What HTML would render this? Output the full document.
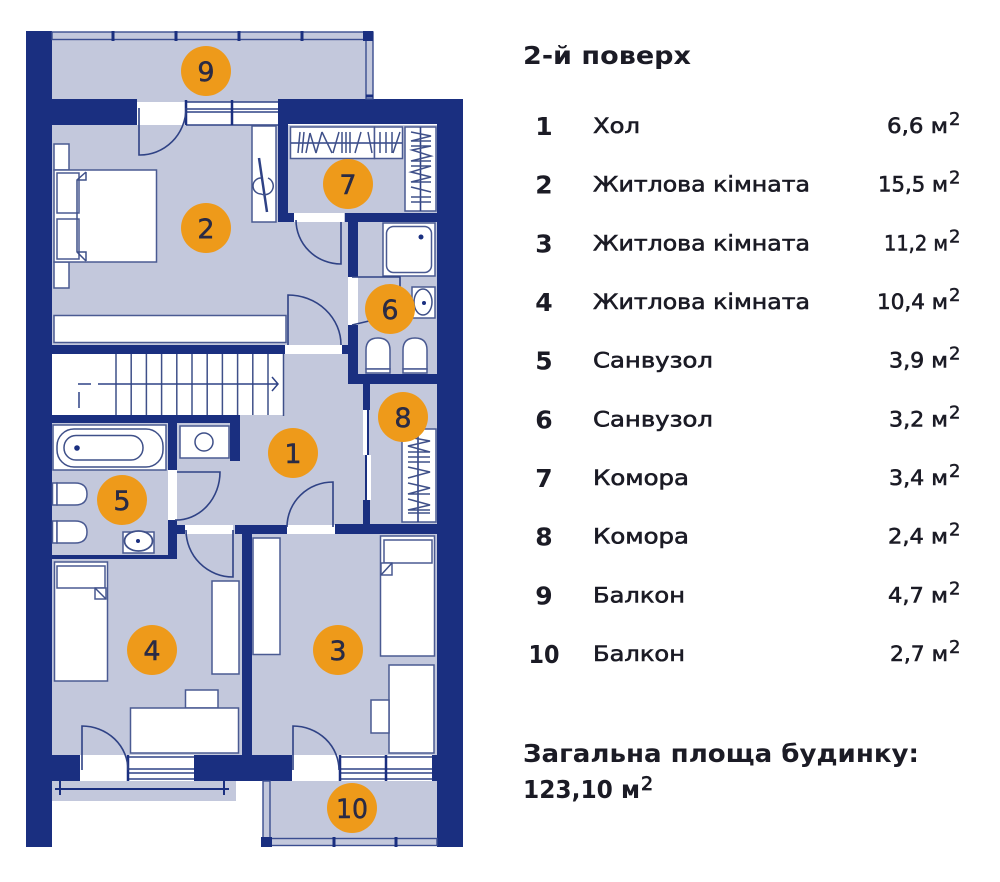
<!DOCTYPE html>
<html lang="uk"><head><meta charset="utf-8"><title>2-й поверх</title>
<style>
html,body{margin:0;padding:0;background:#fff}
svg{display:block}
.w{fill:#1a2f80}
.f{fill:#fff;stroke:#4a5a92;stroke-width:1.5}
.l{fill:none;stroke:#3f5089;stroke-width:1.5}
.d{fill:none;stroke:#2f4285;stroke-width:1.6}
.r{fill:#c3c8dc;stroke:#3a4d90;stroke-width:1.4}
.t{stroke:#1a2f80;stroke-width:3}
.n{font:27px "DejaVu Sans",sans-serif;fill:#2a2b45;stroke:#2a2b45;stroke-width:.5;text-anchor:middle}
.c{fill:#ee9a1a}
.lb{font:21.5px "DejaVu Sans",sans-serif;fill:#1b1b25;stroke:#1b1b25;stroke-width:.6}
.sup{font:18px "DejaVu Sans",sans-serif;fill:#1b1b25;stroke:#1b1b25;stroke-width:.5}
.num{font:bold 25px "DejaVu Sans",sans-serif;fill:#1b1b25;text-anchor:middle}
.h{font:bold 25px "DejaVu Sans",sans-serif;fill:#1b1b25}
</style></head><body>
<svg width="1000" height="882" viewBox="0 0 1000 882" xmlns="http://www.w3.org/2000/svg">
<rect width="1000" height="882" fill="#fff"/>
<!-- fills -->
<g fill="#c3c8dc">
<rect x="52" y="36" width="316" height="66"/>
<rect x="52" y="125" width="385" height="630"/>
<rect x="52" y="781" width="184" height="20"/>
<rect x="268" y="781" width="169" height="60"/>
</g>
<!-- stairs -->
<rect x="52" y="354" width="232" height="61" fill="#fff"/>
<g class="l" stroke-width="1.4">
<path d="M116 354V415M131.2 354V415M146.4 354V415M161.6 354V415M176.8 354V415M192 354V415M207.2 354V415M222.4 354V415M237.6 354V415M252.8 354V415M268 354V415M283.5 354V416"/>
<path d="M98 384H278M78 384H91M272 377L278 384L272 391M79 392V408" stroke="#2f4285"/>
</g>
<!-- white door gaps -->
<g fill="#fff">
<rect x="137" y="102" width="49" height="23"/>
<rect x="294" y="213" width="50" height="9"/>
<rect x="348" y="277" width="10" height="48"/>
<rect x="285" y="345" width="57" height="9"/>
<rect x="168" y="470" width="9" height="50"/>
<rect x="185" y="525" width="48" height="9"/>
<rect x="287" y="525" width="48" height="9"/>
<rect x="80" y="757" width="48" height="24"/>
<rect x="292" y="757" width="48" height="24"/>
<rect x="363" y="410" width="5" height="45"/>
<rect x="366" y="455" width="5" height="45"/>
<rect x="186" y="102" width="92" height="23"/>
<rect x="128" y="757" width="66" height="22"/>
<rect x="340" y="757" width="92" height="22"/>
</g>
<!-- walls -->
<g class="w">
<rect x="26" y="31" width="26" height="816"/>
<rect x="52" y="99" width="85" height="26"/>
<rect x="278" y="99" width="185" height="25"/>
<rect x="437" y="99" width="26" height="748"/>
<rect x="278" y="99" width="10" height="123"/>
<rect x="278" y="213" width="16" height="9"/>
<rect x="345" y="213" width="92" height="9"/>
<rect x="348" y="213" width="10" height="64"/>
<rect x="348" y="325" width="10" height="59"/>
<rect x="348" y="374" width="89" height="10"/>
<rect x="342" y="345" width="8" height="9"/>
<rect x="52" y="345" width="233" height="9"/>
<rect x="363" y="384" width="7" height="26"/>
<rect x="363" y="500" width="7" height="25"/>
<rect x="335" y="524" width="102" height="10"/>
<rect x="235" y="525" width="52" height="9"/>
<rect x="242" y="525" width="10" height="230"/>
<rect x="52" y="415" width="188" height="8"/>
<rect x="168" y="415" width="9" height="55"/>
<rect x="230" y="415" width="10" height="46"/>
<rect x="168" y="520" width="9" height="39"/>
<rect x="168" y="525" width="17" height="9"/>
<rect x="52" y="555" width="125" height="4"/>
<rect x="52" y="755" width="28" height="26"/>
<rect x="194" y="755" width="98" height="26"/>
<rect x="432" y="755" width="5" height="26"/>
</g>
<!-- windows -->
<g class="d">
<path d="M186 102H278M186 109H278M186 112H278M186 125H278"/>
<path d="M186 100V125M232 100V125" stroke-width="2.5" stroke="#1a2f80"/>
<path d="M128 757H194M128 769H194M128 773H194M128 779H194"/>
<path d="M128 755V781" stroke-width="2.5" stroke="#1a2f80"/>
<path d="M340 757H432M340 769H432M340 773H432M340 779H432"/>
<path d="M340 755V781M386 755V781" stroke-width="2.5" stroke="#1a2f80"/>
</g>
<!-- balcony rails -->
<rect class="r" x="52" y="32" width="320" height="7.5"/>
<rect class="r" x="366" y="32" width="7" height="67"/>
<path class="t" d="M113 31V41M176 31V41M239 31V41M302 31V41M366 96H373"/>
<rect x="363" y="31" width="10" height="10" fill="#1a2f80"/>
<rect class="r" x="263" y="781" width="7" height="65"/>
<rect class="r" x="263" y="838.500" width="174" height="7"/>
<path class="t" d="M334 837V847M396 837V847"/>
<rect x="261" y="837" width="11" height="10" fill="#1a2f80"/>
<path d="M55 789H229" stroke="#1a2f80" stroke-width="2" fill="none"/>
<path d="M60 781V795M224 781V795" stroke="#1a2f80" stroke-width="2" fill="none"/>
<!-- doors -->
<g class="d">
<path d="M139 108V155A46 47 0 0 0 186 108"/>
<path d="M341 222V264A45 44 0 0 1 296 220"/>
<path d="M288 345V295A53 50 0 0 1 341 345"/>
<path d="M177 472H220A44 48 0 0 1 175 520"/>
<path d="M233 530V577A47 47 0 0 1 186 530"/>
<path d="M333 527V482A46 45 0 0 0 287 527"/>
<path d="M82 770V726A46 44 0 0 1 128 770"/>
<path d="M293 770V726A46 44 0 0 1 339 770"/>
<path d="M368 410V455M366 455V500" stroke="#1a2f80" stroke-width="2"/>
</g>
<!-- room 2 furniture -->
<rect class="f" x="54" y="144" width="15" height="26"/>
<rect class="f" x="54" y="262" width="15" height="26"/>
<rect class="f" x="54" y="170" width="102.500" height="92" stroke-width="2.500"/>
<rect class="f" x="57" y="173" width="22" height="40"/>
<rect class="f" x="57" y="219" width="22" height="40"/>
<path class="l" d="M86 172L77 180V252L86 261M77 180H86V172M77 252H86V261" fill="#fff"/>
<rect class="f" x="54" y="315.500" width="232" height="27" stroke-width="2"/>
<rect class="f" x="252" y="126" width="24" height="96"/>
<path d="M259 158L267 212" stroke="#2f4285" stroke-width="2.500"/>
<path class="l" d="M261 178A8 8 0 0 0 261 194A8 8 0 0 0 268 178"/>
<!-- room 7 -->
<rect class="f" x="290.500" y="127" width="84" height="31.500"/>
<rect class="f" x="374.500" y="127" width="28" height="31.500"/>
<rect class="f" x="405" y="127" width="31" height="84"/>
<path class="d" d="M291 143H402M420.500 127V211"/>
<path class="l" stroke-width="1.800" d="M300 132L298 153M304 132L302 153M310 133L306 153M310 133L316 153M322 132L316 153M322 132L332 153M339 132L333 153M342 132V153M346 132V153M350 132V153M361 132L355 153M368 132L372 153M380 132V153M386 132V153M392 132V153M400 132L393 153"/>
<path class="l" stroke-width="1.800" d="M411 132L431 136L411 141H431M411 146H431L412 150L431 156L411 161H431M411 166H431L411 172L431 177L411 182H431M411 187L431 192M411 197H431M411 202H431"/>
<!-- bath 6 -->
<rect class="f" x="383" y="223" width="52" height="53"/>
<rect class="f" x="386.500" y="226.500" width="45" height="46" rx="7" stroke-width="2"/>
<circle cx="421" cy="237" r="2.500" fill="#1a2f80"/>
<path class="d" d="M352 277H400V287M352 325L369 321"/>
<rect class="f" x="412" y="287" width="23" height="31"/>
<ellipse cx="423" cy="302" rx="9" ry="13" fill="#fff" stroke="#3f5089" stroke-width="1.500"/>
<circle cx="424" cy="303" r="2" fill="#1a2f80"/>
<path class="f" d="M366 369V350Q366 338 378 338Q390 338 390 350V369Z"/>
<path class="f" d="M403 369V350Q403 338 415 338Q427 338 427 350V369Z"/>
<rect class="f" x="366" y="369" width="24" height="4" fill="#fff"/>
<rect class="f" x="403" y="369" width="24" height="4"/>
<!-- room 8 -->
<rect class="f" x="402" y="429" width="34" height="93"/>
<path class="d" d="M418 429V522"/>
<path class="l" stroke-width="1.800" d="M408 437L430 441L408 446L430 452H408M408 457H430M408 462H430M408 467L430 472L408 478M408 483L430 488L408 494H430M408 499L430 505L408 510H430M408 513H430"/>
<!-- bath 5 -->
<rect class="f" x="53" y="425" width="113" height="45"/>
<rect class="l" x="57" y="429" width="106" height="38" rx="17" stroke-width="2"/>
<rect class="l" x="64" y="435.500" width="79" height="24.500" rx="12" stroke-width="1.800"/>
<circle cx="77" cy="448" r="2.800" fill="#1a2f80"/>
<rect class="f" x="180" y="426" width="49" height="32"/>
<circle cx="204" cy="442" r="9" fill="#fff" stroke="#3f5089" stroke-width="1.500"/>
<rect class="f" x="52.500" y="483" width="4.500" height="22"/>
<path class="f" d="M57 483H75Q87 483 87 494Q87 505 75 505H57Z"/>
<rect class="f" x="52.500" y="521" width="4.500" height="22"/>
<path class="f" d="M57 521H75Q87 521 87 532Q87 543 75 543H57Z"/>
<rect class="f" x="123" y="532" width="31" height="21"/>
<ellipse cx="138.500" cy="541" rx="14" ry="10" fill="#fff" stroke="#3f5089" stroke-width="1.800"/>
<circle cx="138" cy="541" r="2" fill="#1a2f80"/>
<!-- room 3 -->
<rect class="f" x="253" y="538" width="27" height="116.500"/>
<rect class="f" x="380.500" y="536" width="54" height="120" stroke-width="2.200"/>
<rect class="f" x="384" y="540" width="48" height="23"/>
<path class="f" d="M392 563H381V575H392Z" stroke-width="1.200"/>
<path class="l" d="M381 575L392 563" stroke-width="1.200"/>
<rect class="f" x="389" y="665" width="45" height="88"/>
<rect class="f" x="371" y="700" width="18" height="33"/>
<!-- room 4 -->
<rect class="f" x="54.500" y="562" width="53" height="119" stroke-width="2.200"/>
<rect class="f" x="57" y="566" width="48" height="22"/>
<path class="f" d="M95 588H106V599H95Z" stroke-width="1.200"/>
<path class="l" d="M95 588L106 599" stroke-width="1.200"/>
<rect class="f" x="212" y="581" width="27" height="93"/>
<rect class="f" x="185.500" y="690" width="32.500" height="18"/>
<rect class="f" x="130.500" y="708" width="108" height="45"/>
<!-- circles -->
<g class="c">
<circle cx="206" cy="71" r="25"/><circle cx="206" cy="228" r="25"/><circle cx="348" cy="184" r="25"/>
<circle cx="390" cy="309" r="25"/><circle cx="403" cy="417" r="25"/><circle cx="293" cy="453" r="25"/>
<circle cx="122" cy="500" r="25"/><circle cx="152" cy="650" r="25"/><circle cx="338" cy="650" r="25"/>
<circle cx="352" cy="808" r="25"/>
</g>
<g class="n">
<text x="206" y="81">9</text><text x="206" y="238">2</text><text x="348" y="194">7</text>
<text x="390" y="319">6</text><text x="403" y="427">8</text><text x="293" y="463">1</text>
<text x="122" y="510">5</text><text x="152" y="660">4</text><text x="338" y="660">3</text>
<text x="352" y="818" textLength="32" lengthAdjust="spacingAndGlyphs">10</text>
</g>
<!-- text -->
<text class="h" x="523" y="64" textLength="168" lengthAdjust="spacingAndGlyphs">2-й поверх</text>
<text class="num" x="544" y="135">1</text><text class="lb" x="593" y="133" textLength="47" lengthAdjust="spacingAndGlyphs">Хол</text><text class="lb" x="887" y="133" textLength="61" lengthAdjust="spacingAndGlyphs">6,6 м</text><text class="sup" x="949" y="125">2</text>
<text class="num" x="544" y="193.700">2</text><text class="lb" x="593" y="191.700" textLength="217" lengthAdjust="spacingAndGlyphs">Житлова кімната</text><text class="lb" x="878" y="191.700" textLength="70" lengthAdjust="spacingAndGlyphs">15,5 м</text><text class="sup" x="949" y="183.700">2</text>
<text class="num" x="544" y="252.300">3</text><text class="lb" x="593" y="250.300" textLength="217" lengthAdjust="spacingAndGlyphs">Житлова кімната</text><text class="lb" x="884" y="250.300" textLength="64" lengthAdjust="spacingAndGlyphs">11,2 м</text><text class="sup" x="949" y="242.300">2</text>
<text class="num" x="544" y="311">4</text><text class="lb" x="593" y="309" textLength="217" lengthAdjust="spacingAndGlyphs">Житлова кімната</text><text class="lb" x="877" y="309" textLength="71" lengthAdjust="spacingAndGlyphs">10,4 м</text><text class="sup" x="949" y="301">2</text>
<text class="num" x="544" y="369.700">5</text><text class="lb" x="593" y="367.700" textLength="120" lengthAdjust="spacingAndGlyphs">Санвузол</text><text class="lb" x="889" y="367.700" textLength="59" lengthAdjust="spacingAndGlyphs">3,9 м</text><text class="sup" x="949" y="359.700">2</text>
<text class="num" x="544" y="428.300">6</text><text class="lb" x="593" y="426.300" textLength="120" lengthAdjust="spacingAndGlyphs">Санвузол</text><text class="lb" x="889" y="426.300" textLength="59" lengthAdjust="spacingAndGlyphs">3,2 м</text><text class="sup" x="949" y="418.300">2</text>
<text class="num" x="544" y="487">7</text><text class="lb" x="593" y="485" textLength="96" lengthAdjust="spacingAndGlyphs">Комора</text><text class="lb" x="889" y="485" textLength="59" lengthAdjust="spacingAndGlyphs">3,4 м</text><text class="sup" x="949" y="477">2</text>
<text class="num" x="544" y="545.700">8</text><text class="lb" x="593" y="543.700" textLength="96" lengthAdjust="spacingAndGlyphs">Комора</text><text class="lb" x="888" y="543.700" textLength="60" lengthAdjust="spacingAndGlyphs">2,4 м</text><text class="sup" x="949" y="535.700">2</text>
<text class="num" x="544" y="604.300">9</text><text class="lb" x="593" y="602.300" textLength="92" lengthAdjust="spacingAndGlyphs">Балкон</text><text class="lb" x="888" y="602.300" textLength="60" lengthAdjust="spacingAndGlyphs">4,7 м</text><text class="sup" x="949" y="594.300">2</text>
<text class="num" x="544" y="663" textLength="31" lengthAdjust="spacingAndGlyphs">10</text><text class="lb" x="593" y="661" textLength="92" lengthAdjust="spacingAndGlyphs">Балкон</text><text class="lb" x="890" y="661" textLength="58" lengthAdjust="spacingAndGlyphs">2,7 м</text><text class="sup" x="949" y="653">2</text>
<text class="h" x="523" y="762" textLength="396" lengthAdjust="spacingAndGlyphs">Загальна площа будинку:</text>
<text class="h" x="523" y="798" textLength="117" lengthAdjust="spacingAndGlyphs">123,10 м</text><text class="sup" x="641" y="790" style="font-size:19px;stroke-width:.8">2</text>
</svg>
</body></html>
